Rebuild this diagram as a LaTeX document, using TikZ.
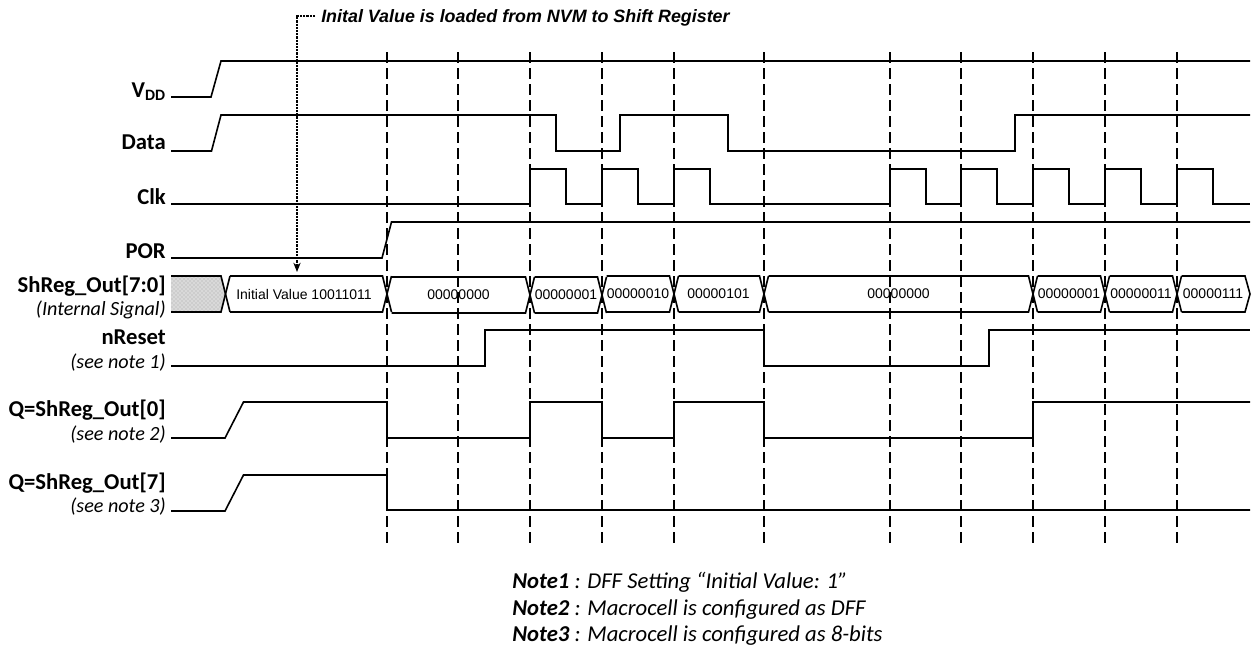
\documentclass[tikz,border=0pt]{standalone}
\usepackage{fontspec}
\setmainfont{Carlito}
\newfontfamily\arial{Liberation Sans}
\usetikzlibrary{patterns,arrows.meta}
\tikzset{
  wave/.style={line width=1.2pt,black,line join=miter},
  grid/.style={line width=1.25pt,black,dash pattern=on 8pt off 4pt},
  sig/.style={anchor=base east,inner sep=0pt,font=\fontsize{17}{19}\selectfont\bfseries},
  subsig/.style={anchor=base east,inner sep=0pt,font=\fontsize{15.1}{17}\selectfont\itshape},
  val/.style={inner sep=0pt,font=\arial\fontsize{10.5}{12}\selectfont},
  note/.style={anchor=base west,inner sep=0pt,font=\fontsize{17}{19}\selectfont\itshape},
  callout/.style={anchor=west,inner sep=0pt,font=\arial\fontsize{13.4}{15}\selectfont\bfseries\itshape},
}
\begin{document}
\begin{tikzpicture}[x=0.75pt,y=-0.75pt]
\useasboundingbox (0,0) rectangle (1253,647);
% grid
\foreach \gx in {387,458,530,602,674,764,890,961,1033,1105,1177}
  \draw[grid] (\gx,52) -- (\gx,547);
% waves
\draw[wave] (171,97) -- (211,97) -- (221,61) -- (1250,61);
\draw[wave] (171,151) -- (211.5,151) -- (221,115) -- (556,115) -- (556,151) -- (620,151) -- (620,115) -- (728,115) -- (728,151) -- (1015,151) -- (1015,115) -- (1250,115);
\draw[wave] (171,204) -- (530,204) -- (530,169) -- (566,169) -- (566,204) -- (602,204) -- (602,169) -- (638,169) -- (638,204) -- (674,204) -- (674,169) -- (710,169) -- (710,204) -- (890,204) -- (890,169) -- (926,169) -- (926,204) -- (961,204) -- (961,169) -- (997,169) -- (997,204) -- (1033,204) -- (1033,169) -- (1069,169) -- (1069,204) -- (1105,204) -- (1105,169) -- (1141,169) -- (1141,204) -- (1177,204) -- (1177,169) -- (1213,169) -- (1213,204) -- (1250,204);
\draw[wave] (171,258) -- (382,258) -- (391.5,222) -- (1250,222);
\draw[wave] (171,366) -- (485,366) -- (485,330) -- (764,330) -- (764,366) -- (989,366) -- (989,330) -- (1250,330);
\draw[wave] (171,438) -- (225,438) -- (243.5,402) -- (387,402) -- (387,438) -- (530,438) -- (530,402) -- (602,402) -- (602,438) -- (674,438) -- (674,402) -- (764,402) -- (764,438) -- (1033,438) -- (1033,402) -- (1250,402);
\draw[wave] (171,511) -- (225,511) -- (243.5,475) -- (387,475) -- (387,510) -- (1250,510);
% bus
\fill[gray!30] (171,276) -- (221,276) -- (226,294) -- (221,312) -- (171,312) -- cycle;
\fill[pattern=crosshatch dots,pattern color=gray!70] (171,276) -- (221,276) -- (226,294) -- (221,312) -- (171,312) -- cycle;
\draw[wave] (171,276) -- (221,276) -- (230,312);
\draw[wave] (171,312) -- (221,312) -- (230,276);
\foreach \xa/\xb/\yt in {230/387/276,391.5/530/277,534.5/602/277,606.5/674/276,678.5/764/276,768.5/1033/276,1037.5/1105/276,1109.5/1177/276}{
  \pgfmathsetmacro{\xs}{\xb-4.5}
  \pgfmathsetmacro{\xe}{\xb+4.5}
  \pgfmathsetmacro{\yb}{\yt+36}
  \draw[wave] (\xa,\yt) -- (\xs,\yt) -- (\xe,\yb);
  \draw[wave] (\xa,\yb) -- (\xs,\yb) -- (\xe,\yt);
}
\draw[wave] (1181.5,276) -- (1245,276) -- (1250,294) -- (1245,312) -- (1181.5,312);
% bus values
\node[val] (b0) at (304,294.5) {Initial Value 10011011};
\node[val] (b1) at (458.5,295) {00000000};
\node[val] (b2) at (566,295) {00000001};
\node[val] (b3) at (638,294) {00000010};
\node[val] (b4) at (718.5,294) {00000101};
\node[val] (b5) at (898.5,294) {00000000};
\node[val] (b6) at (1069,294) {00000001};
\node[val] (b7) at (1141,294) {00000011};
\node[val] (b8) at (1213,294) {00000111};
% callout
\node[callout] (co) at (321,18) {Inital Value is loaded from NVM to Shift Register};
\coordinate (cot) at (297,272);
\draw[line width=0.8pt,dash pattern=on 1.6pt off 0.8pt,-{Stealth[length=7pt,width=5.5pt]}] (co.west) ++(-6,-2) -- (297,16) -- (cot);
% labels
\node[sig] (l1) at (166,97) {V\textsubscript{DD}};
\node[sig] (l2) at (166,149) {Data};
\node[sig] (l3) at (166,204) {Clk};
\node[sig] (l4) at (166,258) {POR};
\node[sig] (l5) at (166,292) {ShReg\_Out[7:0]};
\node[subsig] (l5b) at (166,315) {(Internal Signal)};
\node[sig] (l6) at (166,344) {nReset};
\node[subsig] (l6b) at (166,368.5) {(see note 1)};
\node[sig] (l7) at (166,416) {Q=ShReg\_Out[0]};
\node[subsig] (l7b) at (166,440.5) {(see note 2)};
\node[sig] (l8) at (166,489) {Q=ShReg\_Out[7]};
\node[subsig] (l8b) at (166,512.5) {(see note 3)};
% notes
\node[note] (n1) at (512,588) {\textbf{Note1} : DFF Setting “Initial Value: 1”};
\node[note] (n2) at (512,615) {\textbf{Note2} : Macrocell is configured as DFF};
\node[note] (n3) at (512,641) {\textbf{Note3} : Macrocell is configured as 8-bits};
\end{tikzpicture}
\end{document}
